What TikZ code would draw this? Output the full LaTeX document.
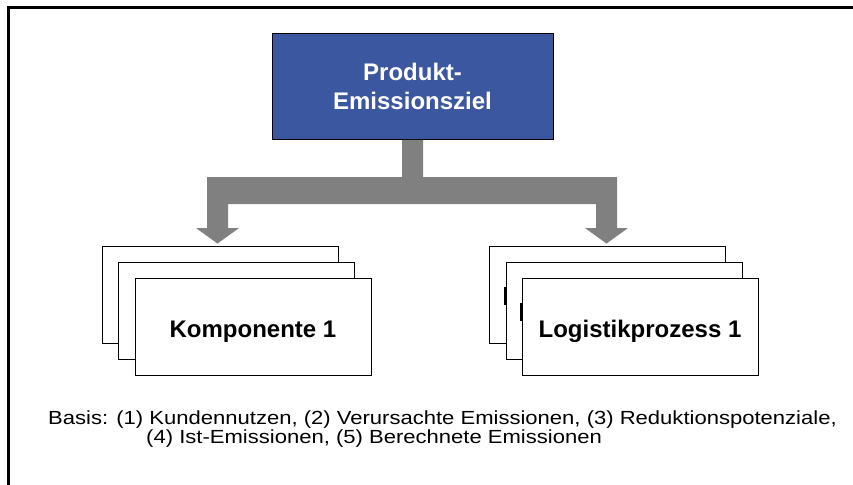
\documentclass[tikz,border=0pt]{standalone}
\usepackage{graphicx}
\usepackage{fontspec}
\setmainfont{Liberation Sans}
\usetikzlibrary{calc}
\definecolor{zielblue}{RGB}{59,87,160}
\definecolor{conngray}{RGB}{128,128,128}
\begin{document}
\begin{tikzpicture}[x=1pt,y=-1pt,
  zielbox/.style={draw=black, line width=0.8pt, fill=zielblue, text=white,
    font=\fontsize{24}{29}\selectfont\bfseries, align=center,
    minimum width=281pt, minimum height=106pt, inner sep=0pt},
  card/.style={draw=black, line width=0.9pt, fill=white,
    minimum width=236pt, minimum height=97pt, inner sep=0pt,
    font=\fontsize{24}{29}\selectfont\bfseries, text height=27pt, text depth=7pt},
  conn/.style={fill=conngray},
  stem/.style={fill=black},
]
\useasboundingbox (0,0) rectangle (853,484);
\fill[white] (0,0) rectangle (853,484);
% outer frame (left and top edges)
\draw[line width=3pt, line join=miter] (8,490) -- (8,8) -- (860,8);

% target box
\node[zielbox] (ziel) at (412.5,86) {Produkt-\\Emissionsziel};

% stacked cards: components
\node[card] (k3) at (220,294.5) {};
\node[card] (k2) at (236.5,311) {};
\node[card] (k1) at (253,327) {Komponente 1};

% stacked cards: logistics processes (first letter of hidden labels peeks out)
\node[card] (l3) at (607.5,294.5) {};
\fill[stem] ($(l3.center)+(-104,-8)$) rectangle ++(3,18);
\node[card] (l2) at (624,311) {};
\fill[stem] ($(l2.center)+(-104,-8)$) rectangle ++(3,18);
\node[card] (l1) at (640,327) {Logistikprozess 1};

% branching block arrow
\coordinate (tipL) at ([xshift=-2.5pt,yshift=2pt]k3.north);
\coordinate (tipR) at ([xshift=-1pt,yshift=2pt]l3.north);
\coordinate (barT) at (0,177);
\coordinate (barB) at (0,204);
\coordinate (headB) at (0,228);
\fill[conn]
  ([xshift=-10.5pt,yshift=-0.4pt]ziel.south)
  -- ([xshift=-10.5pt]ziel.south |- barT)
  -| ([xshift=-10.5pt]tipL |- headB)
  -- ([xshift=-21.5pt]tipL |- headB) -- (tipL) -- ([xshift=21.5pt]tipL |- headB)
  -- ([xshift=10.5pt]tipL |- headB)
  |- ([xshift=-10.5pt]tipR |- barB)
  -- ([xshift=-10.5pt]tipR |- headB)
  -- ([xshift=-21.5pt]tipR |- headB) -- (tipR) -- ([xshift=21.5pt]tipR |- headB)
  -- ([xshift=10.5pt]tipR |- headB)
  |- ([xshift=10.5pt]ziel.south |- barT)
  -- ([xshift=10.5pt,yshift=-0.4pt]ziel.south) -- cycle;

% basis note
\node[anchor=base west, inner sep=0pt, font=\fontsize{19}{19.5}\selectfont] (basis) at (48,424)
  {\scalebox{1.16}[1]{\begin{tabular}[t]{@{}l@{}}Basis: (1) Kundennutzen, (2) Verursachte Emissionen, (3) Reduktionspotenziale,\\
  \hspace*{84.5pt}(4) Ist-Emissionen, (5) Berechnete Emissionen\end{tabular}}};
\end{tikzpicture}
\end{document}
